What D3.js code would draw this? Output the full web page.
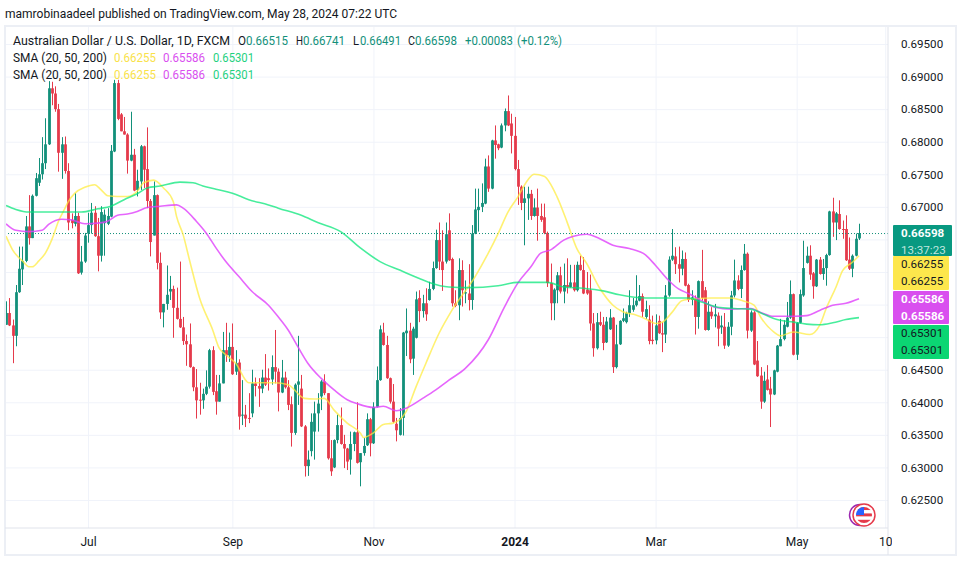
<!DOCTYPE html>
<html>
<head>
<meta charset="utf-8">
<script src="https://d3js.org/d3.v7.min.js"></script>
<style>
  body { margin: 0; background: #fff; }
  text { font-family: Roboto, "Noto Sans", sans-serif; fill: #131722; }
  .axis .domain { display: none; }
</style>
</head>
<body>
<div id="chart"></div>
<script>
// daily candles, oldest first
const opens = [
  .6519,.6537,.6518,.6502,.6569,.6604,.6617,.6670,.6652,.6717,
  .6737,.6750,.6767,.6796,.6882,.6874,.6850,.6783,.6796,.6755,
  .6680,.6674,.6686,.6599,.6616,.6659,.6672,.6691,.6655,.6625,
  .6675,.6674,.6685,.6785,.6890,.6842,.6816,.6811,.6771,.6780,
  .6726,.6739,.6793,.6758,.6709,.6656,.6718,.6614,.6538,.6551,
  .6570,.6574,.6545,.6528,.6515,.6494,.6489,.6454,.6423,.6404,
  .6403,.6413,.6424,.6480,.6417,.6401,.6429,.6480,.6472,.6485,
  .6447,.6461,.6380,.6381,.6376,.6383,.6429,.6425,.6421,.6438,
  .6437,.6435,.6454,.6447,.6415,.6438,.6423,.6397,.6353,.6427,
  .6421,.6363,.6302,.6325,.6355,.6383,.6409,.6432,.6414,.6314,
  .6300,.6342,.6365,.6336,.6329,.6312,.6336,.6354,.6308,.6322,
  .6334,.6374,.6337,.6393,.6434,.6507,.6488,.6437,.6401,.6367,
  .6350,.6376,.6506,.6510,.6467,.6499,.6560,.6540,.6552,.6557,
  .6574,.6606,.6649,.6616,.6616,.6664,.6620,.6552,.6549,.6603,
  .6567,.6567,.6557,.6659,.6695,.6700,.6705,.6762,.6728,.6802,
  .6796,.6791,.6825,.6847,.6828,.6809,.6758,.6731,.6706,.6713,
  .6720,.6686,.6699,.6686,.6684,.6660,.6583,.6552,.6572,.6595,
  .6570,.6580,.6577,.6584,.6572,.6611,.6603,.6573,.6572,.6521,
  .6483,.6523,.6519,.6492,.6512,.6530,.6454,.6489,.6525,.6523,
  .6537,.6542,.6549,.6556,.6563,.6531,.6527,.6496,.6495,.6525,
  .6506,.6504,.6564,.6619,.6624,.6612,.6605,.6620,.6580,.6557,
  .6559,.6531,.6586,.6572,.6511,.6539,.6532,.6533,.6515,.6516,
  .6487,.6516,.6564,.6587,.6574,.6603,.6628,.6510,.6538,.6464,
  .6441,.6401,.6435,.6421,.6412,.6447,.6486,.6497,.6516,.6530,
  .6566,.6473,.6522,.6564,.6614,.6625,.6598,.6578,.6619,.6597,
  .6606,.6626,.6693,.6676,.6689,.6666,.6666,.6619,.6605,.6625,.66515
];
const closes = [
  .6537,.6518,.6502,.6569,.6605,.6617,.6670,.6652,.6717,.6744,
  .6750,.6767,.6796,.6882,.6874,.6850,.6783,.6796,.6755,.6676,
  .6675,.6686,.6598,.6616,.6656,.6672,.6691,.6655,.6625,.6692,
  .6688,.6686,.6786,.6890,.6835,.6816,.6811,.6771,.6780,.6725,
  .6740,.6793,.6757,.6709,.6646,.6718,.6614,.6538,.6551,.6565,
  .6574,.6545,.6528,.6515,.6494,.6489,.6454,.6423,.6403,.6403,
  .6413,.6424,.6480,.6416,.6401,.6429,.6480,.6472,.6485,.6443,
  .6460,.6378,.6381,.6375,.6375,.6429,.6425,.6421,.6438,.6427,
  .6434,.6454,.6447,.6415,.6438,.6423,.6396,.6353,.6427,.6432,
  .6363,.6302,.6312,.6370,.6383,.6398,.6432,.6414,.6314,.6294,
  .6342,.6365,.6336,.6329,.6309,.6336,.6354,.6307,.6322,.6333,
  .6374,.6337,.6393,.6434,.6512,.6488,.6437,.6401,.6370,.6357,
  .6376,.6507,.6510,.6466,.6513,.6558,.6540,.6552,.6535,.6574,
  .6606,.6649,.6616,.6603,.6658,.6618,.6552,.6548,.6603,.6572,
  .6569,.6557,.6659,.6696,.6700,.6706,.6762,.6728,.6802,.6795,
  .6790,.6825,.6847,.6825,.6809,.6758,.6731,.6706,.6713,.6720,
  .6686,.6699,.6686,.6680,.6660,.6583,.6552,.6573,.6595,.6570,
  .6580,.6577,.6584,.6572,.6611,.6603,.6567,.6567,.6521,.6483,
  .6523,.6519,.6491,.6524,.6530,.6454,.6489,.6525,.6529,.6537,
  .6549,.6549,.6556,.6563,.6539,.6543,.6494,.6494,.6518,.6506,
  .6504,.6564,.6619,.6625,.6612,.6605,.6620,.6579,.6557,.6561,
  .6531,.6586,.6560,.6511,.6539,.6532,.6535,.6513,.6518,.6487,
  .6516,.6564,.6587,.6574,.6603,.6628,.6510,.6538,.6458,.6440,
  .6401,.6433,.6419,.6412,.6449,.6487,.6497,.6519,.6530,.6566,
  .6473,.6522,.6566,.6606,.6625,.6596,.6578,.6619,.6597,.6606,
  .6626,.6693,.6676,.6690,.6666,.6665,.6618,.6605,.6625,.6651,.66598
];
const highs = [
  .6555,.6560,.6527,.6580,.6639,.6639,.6686,.6718,.6719,.6752,
  .6775,.6807,.6836,.6893,.6892,.6885,.6858,.6807,.6808,.6767,
  .6690,.6721,.6691,.6640,.6660,.6691,.6706,.6701,.6683,.6701,
  .6696,.6698,.6795,.6895,.6895,.6844,.6838,.6813,.6846,.6789,
  .6757,.6795,.6794,.6822,.6712,.6739,.6719,.6630,.6551,.6610,
  .6594,.6579,.6576,.6616,.6531,.6504,.6521,.6455,.6451,.6430,
  .6421,.6449,.6482,.6486,.6442,.6442,.6508,.6522,.6507,.6521,
  .6480,.6466,.6434,.6396,.6414,.6450,.6438,.6437,.6450,.6474,
  .6452,.6472,.6511,.6452,.6465,.6447,.6434,.6409,.6429,.6502,
  .6442,.6365,.6326,.6383,.6401,.6414,.6434,.6443,.6414,.6342,
  .6343,.6381,.6392,.6350,.6330,.6355,.6355,.6400,.6322,.6345,
  .6383,.6376,.6400,.6455,.6518,.6522,.6502,.6438,.6428,.6376,
  .6391,.6508,.6544,.6522,.6516,.6570,.6572,.6565,.6575,.6585,
  .6616,.6665,.6676,.6664,.6676,.6690,.6622,.6572,.6621,.6618,
  .6587,.6612,.6672,.6728,.6728,.6736,.6774,.6779,.6803,.6825,
  .6797,.6828,.6851,.6871,.6843,.6838,.6772,.6733,.6731,.6731,
  .6726,.6713,.6728,.6705,.6705,.6662,.6613,.6575,.6600,.6608,
  .6613,.6621,.6611,.6611,.6616,.6625,.6623,.6600,.6596,.6537,
  .6537,.6539,.6531,.6531,.6543,.6531,.6519,.6526,.6544,.6539,
  .6572,.6560,.6595,.6580,.6567,.6556,.6549,.6533,.6535,.6533,
  .6523,.6580,.6624,.6666,.6638,.6639,.6633,.6630,.6582,.6572,
  .6564,.6587,.6634,.6577,.6555,.6546,.6551,.6538,.6533,.6537,
  .6523,.6571,.6619,.6595,.6610,.6643,.6630,.6541,.6540,.6494,
  .6454,.6447,.6457,.6439,.6450,.6488,.6528,.6526,.6554,.6587,
  .6567,.6523,.6573,.6648,.6639,.6641,.6600,.6620,.6623,.6620,
  .6628,.6694,.6714,.6692,.6710,.6679,.6687,.6653,.6627,.6659,.66741
];
const lows = [
  .6519,.6517,.6460,.6486,.6568,.6580,.6615,.6642,.6652,.6716,
  .6732,.6742,.6758,.6795,.6856,.6846,.6754,.6743,.6751,.6664,
  .6667,.6670,.6597,.6596,.6614,.6645,.6659,.6654,.6601,.6616,
  .6625,.6672,.6684,.6784,.6833,.6816,.6811,.6751,.6770,.6724,
  .6716,.6726,.6729,.6698,.6624,.6656,.6604,.6528,.6515,.6542,
  .6557,.6499,.6527,.6514,.6488,.6456,.6453,.6417,.6375,.6381,
  .6390,.6411,.6421,.6411,.6381,.6401,.6429,.6462,.6462,.6442,
  .6442,.6358,.6365,.6362,.6368,.6377,.6409,.6393,.6414,.6425,
  .6418,.6427,.6429,.6386,.6414,.6421,.6388,.6332,.6350,.6396,
  .6362,.6286,.6287,.6317,.6312,.6355,.6388,.6411,.6312,.6287,
  .6299,.6337,.6335,.6299,.6296,.6289,.6325,.6306,.6271,.6318,
  .6333,.6317,.6336,.6392,.6433,.6487,.6436,.6398,.6368,.6340,
  .6349,.6349,.6471,.6460,.6442,.6498,.6523,.6530,.6525,.6556,
  .6572,.6605,.6603,.6571,.6613,.6617,.6547,.6546,.6526,.6547,
  .6552,.6541,.6542,.6658,.6662,.6692,.6704,.6723,.6727,.6774,
  .6787,.6790,.6816,.6824,.6782,.6756,.6703,.6695,.6641,.6680,
  .6680,.6685,.6648,.6677,.6658,.6577,.6526,.6526,.6552,.6567,
  .6552,.6567,.6576,.6570,.6570,.6602,.6566,.6565,.6510,.6470,
  .6481,.6517,.6480,.6491,.6511,.6445,.6452,.6488,.6523,.6521,
  .6531,.6539,.6547,.6555,.6531,.6528,.6489,.6489,.6489,.6505,
  .6477,.6491,.6562,.6617,.6597,.6584,.6595,.6578,.6554,.6549,
  .6504,.6513,.6556,.6510,.6510,.6528,.6515,.6486,.6505,.6482,
  .6485,.6503,.6561,.6572,.6560,.6602,.6498,.6508,.6457,.6439,
  .6390,.6399,.6418,.6362,.6411,.6446,.6486,.6495,.6515,.6528,
  .6472,.6465,.6521,.6562,.6613,.6588,.6559,.6577,.6596,.6588,
  .6579,.6625,.6654,.6649,.6665,.6651,.6617,.6603,.6592,.6624,.66491
];

// moving averages, sampled by eye at these bar numbers
const sma20Bars = [0,2,5,7,8,10,12,14,16,18,19,21,24,27,29,31,34,37,40,42,45,48,51,52,54,56,59,63,65,67,70,74,77,82,86,91,94,97,100,104,108,109,112,115,118,122,125,128,132,136,143,147,150,153,156,159,161,164,168,171,174,177,181,185,188,192,195,198,200,203,206,210,215,221,225,228,230,234,236,240,245,248,250,253,255,258,260];
const sma20Values = [.6655,.6634,.6617,.6608,.6608,.6617,.6629,.6650,.6678,.6698,.6708,.6721,.6730,.6734,.6726,.6717,.6716,.6716,.6724,.6737,.6741,.6729,.6708,.6685,.6657,.6617,.6560,.6511,.6483,.6473,.6460,.6430,.6430,.6430,.6427,.6406,.6405,.6406,.6388,.6368,.6353,.6346,.6353,.6366,.6368,.6386,.6424,.6460,.6506,.6542,.6593,.6629,.6659,.6692,.6715,.6741,.6750,.6747,.6715,.6677,.6636,.6613,.6575,.6549,.6539,.6534,.6528,.6521,.6523,.6538,.6556,.6559,.6560,.6560,.6555,.6549,.6531,.6508,.6502,.6508,.6504,.6518,.6544,.6577,.6602,.6615,.6625];
const sma50Bars = [0,3,7,11,13,17,20,24,28,31,34,37,40,43,47,52,54,58,61,64,67,71,75,80,83,86,89,92,96,100,104,107,112,115,119,122,127,131,135,140,147,152,156,160,163,166,170,173,177,181,185,190,195,198,202,205,208,212,216,221,227,230,234,240,244,248,252,256,260];
const sma50Values = [.6674,.6664,.6662,.6664,.6673,.6681,.6680,.6674,.6675,.6678,.6687,.6689,.6693,.6699,.6701,.6703,.6698,.6678,.6660,.6637,.6616,.6593,.6570,.6549,.6531,.6511,.6485,.6460,.6437,.6419,.6404,.6398,.6392,.6394,.6387,.6391,.6406,.6419,.6434,.6452,.6496,.6547,.6583,.6608,.6629,.6634,.6649,.6655,.6658,.6651,.6641,.6636,.6626,.6610,.6587,.6574,.6567,.6556,.6546,.6543,.6544,.6538,.6532,.6532,.6533,.6541,.6549,.6552,.6559];
const sma200Bars = [0,3,7,11,18,23,28,32,36,40,43,47,53,57,60,64,69,74,80,83,90,95,102,108,114,120,126,129,135,141,150,156,165,170,176,182,187,195,203,208,212,217,222,227,231,235,240,244,248,252,256,260];
const sma200Values = [.6702,.6696,.6692,.6692,.6692,.6692,.6697,.6701,.6711,.6720,.6729,.6732,.6738,.6737,.6732,.6727,.6721,.6711,.6703,.6698,.6687,.6676,.6662,.6637,.6616,.6603,.6590,.6584,.6577,.6576,.6579,.6584,.6584,.6577,.6575,.6571,.6565,.6560,.6560,.6560,.6554,.6546,.6544,.6543,.6535,.6527,.6523,.6520,.6519,.6522,.6527,.6530];

// .650 to .665 sit under the price tags, so they only get a grid line
const gridTicks = [.625,.63,.635,.64,.645,.65,.655,.66,.665,.67,.675,.68,.685,.69,.695];
const priceTicks = [.625,.63,.635,.64,.645,.67,.675,.68,.685,.69,.695];
const timeTickBars = [25,69,112,155,198,241,268];
const timeTickLabels = ['Jul','Sep','Nov','2024','Mar','May','10'];

const lastPrice = .66598;
const sma20Last = '0.66255';
const sma50Last = '0.65586';
const sma200Last = '0.65301';

const up = '#12907a';
const down = '#e53a4b';
const gridColor = '#f0f3fa';
const yellow = '#ffeb3b';
const purple = '#e040fb';
const mint = '#00e676';

const svg = d3.select('#chart').append('svg')
  .attr('width', 962)
  .attr('height', 562)
  .style('display', 'block');

const x = d3.scaleLinear().domain([0, 260]).range([6, 859]);
const y = d3.scaleLinear().domain([.625, .695]).range([500, 44]);

svg.append('text')
  .attr('x', 5)
  .attr('y', 18)
  .attr('textLength', 392)
  .attr('lengthAdjust', 'spacingAndGlyphs')
  .style('font-size', '12.5px')
  .text('mamrobinaadeel published on TradingView.com, May 28, 2024 07:22 UTC');

svg.append('defs').append('clipPath').attr('id', 'pane')
  .append('rect').attr('x', 5).attr('y', 27).attr('width', 883).attr('height', 501);
svg.select('defs').append('clipPath').attr('id', 'timeClip')
  .append('rect').attr('x', 5).attr('y', 528).attr('width', 887).attr('height', 27);

// grid comes from the axes' own ticks
const grid = svg.append('g').attr('clip-path', 'url(#pane)');
grid.append('g')
  .attr('transform', 'translate(5,0)')
  .call(d3.axisRight(y).tickValues(gridTicks).tickSize(883).tickFormat(''))
  .call((g) => g.select('.domain').remove())
  .selectAll('line').attr('stroke', gridColor);
grid.append('g')
  .attr('transform', 'translate(0,27)')
  .call(d3.axisBottom(x).tickValues(timeTickBars).tickSize(501).tickFormat(''))
  .call((g) => g.select('.domain').remove())
  .selectAll('line').attr('stroke', gridColor);

// candles
const candles = d3.range(opens.length);
const marks = svg.append('g').attr('clip-path', 'url(#pane)');
marks.selectAll('.wick')
  .data(candles)
  .enter()
  .append('line')
  .attr('class', 'wick')
  .attr('x1', (i) => Math.round(x(i)) + 0.5)
  .attr('x2', (i) => Math.round(x(i)) + 0.5)
  .attr('y1', (i) => y(highs[i]))
  .attr('y2', (i) => y(lows[i]))
  .attr('stroke', (i) => closes[i] >= opens[i] ? up : down)
  .attr('stroke-width', 1);
marks.selectAll('.body')
  .data(candles)
  .enter()
  .append('rect')
  .attr('class', 'body')
  .attr('x', (i) => Math.round(x(i)) - 0.9)
  .attr('width', 2.8)
  .attr('y', (i) => y(Math.max(opens[i], closes[i])))
  .attr('height', (i) => Math.max(1, Math.abs(y(opens[i]) - y(closes[i]))))
  .attr('fill', (i) => closes[i] >= opens[i] ? up : down);

// last price line
marks.append('line')
  .attr('x1', 5)
  .attr('x2', 888)
  .attr('y1', y(lastPrice) + 0.5)
  .attr('y2', y(lastPrice) + 0.5)
  .attr('stroke', up)
  .attr('stroke-dasharray', '1 2');

// SMA lines
const smaLine = d3.line()
  .x((d) => x(d[0]))
  .y((d) => y(d[1]))
  .curve(d3.curveMonotoneX);
[[sma20Bars, sma20Values, yellow, 0.72], [sma50Bars, sma50Values, purple, 0.8], [sma200Bars, sma200Values, mint, 0.72]]
  .forEach(([bars, values, color, alpha]) => {
    marks.append('path')
      .attr('d', smaLine(d3.zip(bars, values)))
      .attr('fill', 'none')
      .attr('stroke', color)
      .attr('stroke-opacity', alpha)
      .attr('stroke-width', 1.6);
  });

// frame
svg.append('rect')
  .attr('x', 5).attr('y', 26).attr('width', 951).attr('height', 529)
  .attr('fill', 'none').attr('stroke', '#eceff5').attr('stroke-width', 2);
svg.append('line').attr('x1', 888).attr('x2', 888).attr('y1', 27).attr('y2', 555).attr('stroke', '#e0e3eb');
svg.append('line').attr('x1', 5).attr('x2', 888).attr('y1', 528).attr('y2', 528).attr('stroke', '#e0e3eb');

// axes
const priceAxis = svg.append('g')
  .attr('class', 'axis')
  .attr('transform', 'translate(888,0)')
  .call(d3.axisRight(y).tickValues(priceTicks).tickSize(0).tickPadding(13).tickFormat((d) => d.toFixed(5)));
priceAxis.selectAll('text').style('font-size', '11.6px').style('font-family', 'Roboto, sans-serif');

const timeAxis = svg.append('g')
  .attr('class', 'axis')
  .attr('clip-path', 'url(#timeClip)')
  .append('g')
  .attr('transform', 'translate(0,528)')
  .call(d3.axisBottom(x).tickValues(timeTickBars).tickSize(0).tickPadding(9)
    .tickFormat((d, i) => timeTickLabels[i]));
timeAxis.selectAll('text')
  .style('font-size', '12px')
  .style('font-weight', (d, i) => timeTickLabels[i] === '2024' ? 'bold' : 'normal');

// price tags on the right scale
const tagBoxes = [
  {top: 225, bottom: 256, right: 952, fill: '#089981', lines: [{t: lastPrice.toFixed(5), c: '#fff', w: 'bold'}, {t: '13:37:23', c: '#bfe6df', w: 'normal'}]},
  {top: 256, bottom: 290, right: 949, fill: '#fde74c', lines: [{t: sma20Last, c: '#131722'}, {t: sma20Last, c: '#131722'}]},
  {top: 291, bottom: 324, right: 949, fill: '#d94fef', lines: [{t: sma50Last, c: '#fff', w: 'bold'}, {t: sma50Last, c: '#fff', w: 'bold'}]},
  {top: 325, bottom: 359, right: 949, fill: '#0bd673', lines: [{t: sma200Last, c: '#131722'}, {t: sma200Last, c: '#131722'}]}
];
tagBoxes.forEach((b) => {
  svg.append('rect')
    .attr('x', 893).attr('y', b.top).attr('width', b.right - 893).attr('height', b.bottom - b.top)
    .attr('rx', 1).attr('fill', b.fill);
  b.lines.forEach((l, i) => {
    svg.append('text')
      .attr('x', 901)
      .attr('y', b.top + 12 + i * 16.5)
      .style('fill', l.c)
      .style('font-size', '11.6px')
      .style('font-weight', l.w || 'normal')
      .text(l.t);
  });
});

// legend rows: x, baseline, text, colour, width
const legend = svg.append('g').style('font-size', '12.5px');
const legendPieces = [
  [13, 45, 'Australian Dollar / U.S. Dollar, 1D, FXCM', '#131722', 217],
  [238, 45, 'O', '#131722', 8], [246, 45, '0.66515', up, 42],
  [296, 45, 'H', '#131722', 7], [303, 45, '0.66741', up, 42],
  [353, 45, 'L', '#131722', 6], [360, 45, '0.66491', up, 41],
  [408, 45, 'C', '#131722', 7], [415, 45, '0.66598', up, 42],
  [465, 45, '+0.00083', up, 48], [517, 45, '(+0.12%)', up, 45],
  [13, 62, 'SMA (20, 50, 200)', '#131722', 94],
  [114, 62, sma20Last, '#f9e24a', 42], [163, 62, sma50Last, '#d94fef', 42], [213, 62, sma200Last, '#1fd17f', 41],
  [13, 79, 'SMA (20, 50, 200)', '#131722', 94],
  [114, 79, sma20Last, '#f9e24a', 42], [163, 79, sma50Last, '#d94fef', 42], [213, 79, sma200Last, '#1fd17f', 41]
];
legend.selectAll('text')
  .data(legendPieces)
  .enter()
  .append('text')
  .attr('x', (d) => d[0])
  .attr('y', (d) => d[1])
  .attr('textLength', (d) => d[4])
  .attr('lengthAdjust', 'spacingAndGlyphs')
  .style('fill', (d) => d[3])
  .text((d) => d[2]);

// small flag badge near the bottom right
const badge = svg.append('g').attr('transform', 'translate(0,515)');
badge.append('circle').attr('cx', 860).attr('r', 10.5).attr('fill', '#fff').attr('stroke', '#9c27b0').attr('stroke-width', 1.5);
badge.append('circle').attr('cx', 864).attr('r', 11).attr('fill', '#fff').attr('stroke', '#e53a4b').attr('stroke-width', 1.5);
badge.append('clipPath').attr('id', 'flag').append('circle').attr('cx', 864).attr('r', 8);
const flag = badge.append('g').attr('clip-path', 'url(#flag)');
d3.range(5).forEach((k) => {
  flag.append('rect').attr('x', 856).attr('y', -8 + k * 3.2).attr('width', 16).attr('height', 3.2)
    .attr('fill', k % 2 === 0 ? '#e53a4b' : '#fff');
});
flag.append('rect').attr('x', 856).attr('y', -8).attr('width', 8).attr('height', 8).attr('fill', '#2962ff');
</script>
</body>
</html>
